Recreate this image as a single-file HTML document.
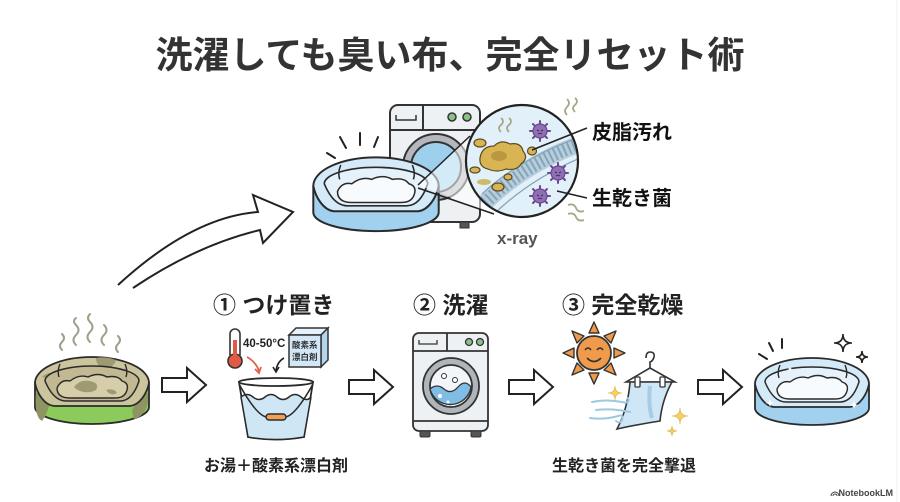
<!DOCTYPE html>
<html><head><meta charset="utf-8"><style>
html,body{margin:0;padding:0;background:#fff;}
svg{display:block;}
text{font-family:"Liberation Sans","Noto Sans CJK JP",sans-serif;font-weight:bold;}
</style></head><body>
<svg width="900" height="502" viewBox="0 0 900 502" xmlns="http://www.w3.org/2000/svg">
<defs>
  <clipPath id="mag"><circle cx="522" cy="161" r="56"/></clipPath>
  <g id="germ">
    <g stroke="#6a4a8c" stroke-width="2" stroke-linecap="round">
      <line x1="0" y1="-10" x2="0" y2="10"/><line x1="-10" y1="0" x2="10" y2="0"/>
      <line x1="-7" y1="-7" x2="7" y2="7"/><line x1="-7" y1="7" x2="7" y2="-7"/>
    </g>
    <circle r="7" fill="#9070b4" stroke="#6a4a8c" stroke-width="1.2"/>
    <path d="M-3,-1 l2,1 M3,-1 l-2,1 M-2,3 q2,-1.5 4,0" stroke="#3d2a55" stroke-width="1" fill="none"/>
  </g>
</defs>

<!-- Title -->
<text x="450" y="68" font-size="37" fill="#333" text-anchor="middle">洗濯しても臭い布、完全リセット術</text>

<!-- Top washer -->
<g stroke="#333" stroke-width="2">
  <rect x="390" y="105" width="90" height="117" rx="8" fill="#eef1f4"/>
  <line x1="390" y1="130" x2="480" y2="130"/>
  <line x1="423" y1="105" x2="423" y2="130"/>
  <path d="M396,115 v5 h20 v-5" fill="none" stroke-width="1.5"/>
  <circle cx="452" cy="117" r="4" fill="#8cc08a" stroke-width="1.5"/>
  <circle cx="467" cy="117" r="4" fill="#8cc08a" stroke-width="1.5"/>
  <circle cx="436" cy="167" r="33" fill="#b4b8be"/>
  <circle cx="436" cy="167" r="25" fill="#9ed0ee"/>
  <rect x="460" y="222" width="9" height="6" fill="#555" stroke-width="1"/>
</g>

<!-- Top bed -->
<g transform="translate(376,186) scale(1.1,1.1)" stroke="#2a2a2a" stroke-width="1.8" stroke-linejoin="round">
  <path d="M-57,0 L-57,24 A57,17 0 0 0 57,24 L57,0 Z" fill="#a2d1ef"/>
  <path d="M-57,0 A57,26 0 0 1 57,0 C55,10 48,22 38,23 L-38,23 C-48,22 -55,10 -57,0 Z" fill="#d5eaf8"/>
  <path d="M-47,-2 A47,15 0 0 1 47,-2 C43,10 37,18 28,18 L-26,18 C-35,18 -42,10 -47,-2 Z" fill="#e6f2fb" stroke-width="1.5"/>
  <path d="M-35,5 Q-31,-4 -22,-2 Q-13,-9 -4,-6 Q6,-11 15,-6 Q26,-8 30,-2 Q37,0 35,7 C33,14 28,15 22,15 L-22,15 C-30,15 -35,12 -35,5 Z" fill="#f8fbfe" stroke-width="1.4"/>
  <path d="M-32,-19 q-3,7 -1,13 M33,-19 q3,7 1,13" fill="none" stroke-width="1.4"/>
</g>
<!-- emphasis lines top bed -->
<g stroke="#222" stroke-width="2" stroke-linecap="round">
  <line x1="327" y1="153" x2="335" y2="158"/>
  <line x1="340" y1="137" x2="346" y2="148"/>
  <line x1="360" y1="133" x2="360" y2="145"/>
  <line x1="378" y1="137" x2="374" y2="147"/>
</g>

<!-- cone -->
<path d="M418,185 L470,136 L494,214 Z" fill="#ffffff" fill-opacity="0.55"/>
<g stroke="#222" stroke-width="1.5">
  <line x1="418" y1="185" x2="470" y2="136"/>
  <line x1="418" y1="188" x2="494" y2="214"/>
</g>

<!-- magnifier -->
<g clip-path="url(#mag)">
  <rect x="460" y="100" width="130" height="125" fill="#e2f0f9"/>
  <path d="M478,210 Q520,165 585,142" stroke="#b6cddc" stroke-width="17" fill="none"/>
  <path d="M478,210 Q520,165 585,142" stroke="#86a4b9" stroke-width="13" stroke-dasharray="2 3" fill="none"/>
  <path d="M482,194 Q520,158 585,135" stroke="#86a4b9" stroke-width="1.3" fill="none"/>
  <path d="M486,222 Q528,178 590,154" stroke="#86a4b9" stroke-width="1.3" fill="none"/>
  <g fill="#d9b455" stroke="#5a4a20" stroke-width="1.2">
    <path d="M480,158 q2,-12 14,-12 q7,-7 16,-2 q11,-2 13,7 q6,7 -2,13 q-4,7 -15,5 q-9,4 -18,0 q-9,-2 -8,-11 Z"/>
    <ellipse cx="480" cy="143" rx="6" ry="4"/>
    <ellipse cx="532" cy="151" rx="4.5" ry="4"/>
    <ellipse cx="475" cy="170" rx="5" ry="3"/>
    <ellipse cx="508" cy="177" rx="4" ry="3"/>
    <ellipse cx="498" cy="187" rx="6" ry="4"/>
  </g>
  <ellipse cx="484" cy="182" rx="7" ry="3" fill="#cfba6a"/>
  <ellipse cx="499" cy="156" rx="8" ry="5" fill="#b9983f"/>
  <path d="M501,132 q-4,-4 0,-7 q4,-4 0,-7 M509,132 q-4,-4 0,-7 q4,-4 0,-7" stroke="#a8a888" stroke-width="1.8" fill="none"/>
  <use href="#germ" x="540" y="131"/>
  <use href="#germ" x="558" y="173"/>
  <use href="#germ" x="540" y="196"/>
</g>
<circle cx="522" cy="161" r="56" fill="none" stroke="#222" stroke-width="2.2"/>
<g stroke="#222" stroke-width="1.5">
  <line x1="532" y1="150" x2="587" y2="128"/>
  <line x1="557" y1="191" x2="587" y2="198"/>
</g>
<path d="M567,115 q-4,-4 0,-8 q4,-4 0,-8 M575,112 q-4,-4 0,-7 q4,-4 0,-7" stroke="#a8a888" stroke-width="1.8" fill="none"/>
<path d="M568,205 q6,-2 8,3 q2,5 8,3 M568,214 q6,-2 8,3 q2,5 8,3" stroke="#a8a888" stroke-width="1.8" fill="none"/>

<text x="592" y="139" font-size="20" fill="#111">皮脂汚れ</text>
<text x="592" y="205" font-size="20" fill="#111">生乾き菌</text>
<text x="497" y="244" font-size="17" fill="#555">x-ray</text>

<!-- big curved arrow -->
<path d="M118,285 Q192,217 258,212 L253,195 L293,212 L263,243 L260,230 Q197,245 133,288" fill="#fff" stroke="#222" stroke-width="2" stroke-linejoin="miter"/>

<!-- Step headers -->
<text x="213" y="313" font-size="23" fill="#222">① つけ置き</text>
<text x="413" y="313" font-size="23" fill="#222">② 洗濯</text>
<text x="562" y="313" font-size="23" fill="#222">③ 完全乾燥</text>

<!-- dirty bed steam -->
<g stroke="#a0a08a" stroke-width="2" fill="none" stroke-linecap="round">
  <path d="M62,350 q-4,-4 0,-8 q4,-4 0,-8"/>
  <path d="M76,345 q-5,-5 0,-10 q5,-5 0,-10 q-4,-4 0,-7"/>
  <path d="M90,342 q-5,-5 0,-10 q5,-5 0,-10 q-4,-4 0,-8"/>
  <path d="M104,345 q-5,-5 0,-10 q5,-5 0,-10"/>
  <path d="M118,352 q-4,-4 0,-8 q4,-4 0,-8"/>
</g>
<!-- dirty bed -->
<g transform="translate(92,383)" stroke="#2a2a2a" stroke-width="1.8" stroke-linejoin="round">
  <path d="M-57,0 L-57,24 A57,17 0 0 0 57,24 L57,0 Z" fill="#8dca5c"/>
  <path d="M-56,10 q10,-2 14,8 q-2,12 -8,20 q-8,-4 -6,-28 Z" fill="#8e9462" stroke="none"/>
  <path d="M40,28 q6,-16 16,-18 l0,10 q-4,14 -14,16 Z" fill="#8e9462" stroke="none"/>
  <path d="M-57,0 A57,26 0 0 1 57,0 C55,10 48,22 38,23 L-38,23 C-48,22 -55,10 -57,0 Z" fill="#cbc49c"/>
  <path d="M4,-25 q10,-2 20,2 q-2,8 -12,8 q-8,-2 -8,-10 Z" fill="#9e9a72" stroke="none"/>
  <path d="M-50,-6 q6,-6 14,-3 q-2,6 -14,3 Z" fill="#9e9a72" stroke="none"/>
  <path d="M-47,-2 A47,15 0 0 1 47,-2 C43,10 37,18 28,18 L-26,18 C-35,18 -42,10 -47,-2 Z" fill="#c2b992" stroke-width="1.5"/>
  <path d="M-35,5 Q-31,-4 -22,-2 Q-13,-9 -4,-6 Q6,-11 15,-6 Q26,-8 30,-2 Q37,0 35,7 C33,14 28,15 22,15 L-22,15 C-30,15 -35,12 -35,5 Z" fill="#d6ceaa" stroke-width="1.4"/>
  <path d="M-18,4 q6,-8 16,-6 q10,2 6,9 q-10,5 -20,-1 Z" fill="#9e9a72" stroke="none"/>
  <path d="M14,7 q8,-2 11,3 q-6,4 -11,-3 Z" fill="#9e9a72" stroke="none"/>
  <path d="M-32,-19 q-3,7 -1,13 M33,-19 q3,7 1,13" fill="none" stroke-width="1.4"/>
</g>

<!-- hollow arrows -->
<g fill="#fff" stroke="#222" stroke-width="2" stroke-linejoin="miter">
  <path d="M162,378 L187,378 L187,368 L206,385 L187,402 L187,392 L162,392 Z"/>
  <path d="M349,380 L374,380 L374,370 L393,387 L374,404 L374,394 L349,394 Z"/>
  <path d="M509,380 L534,380 L534,370 L553,387 L534,404 L534,394 L509,394 Z"/>
  <path d="M698,380 L723,380 L723,370 L742,387 L723,404 L723,394 L698,394 Z"/>
</g>

<!-- thermometer -->
<g stroke="#333" stroke-width="1.6">
  <rect x="230" y="329" width="10" height="30" rx="5" fill="#fff"/>
  <circle cx="235" cy="361" r="7" fill="#e25a43"/>
  <rect x="233" y="340" width="4" height="18" fill="#e25a43" stroke="none"/>
</g>
<text x="243" y="347" font-size="11.5" fill="#222">40-50°C</text>
<!-- box -->
<g stroke="#333" stroke-width="1.5">
  <path d="M289,335 L296,328 L328,328 L321,335 Z" fill="#e6f2fb"/>
  <path d="M321,335 L328,328 L328,360 L321,367 Z" fill="#b2d4ec"/>
  <rect x="289" y="335" width="32" height="32" fill="#d2e8f7"/>
</g>
<text x="292" y="348" font-size="8.5" fill="#333">酸素系</text>
<text x="292" y="360" font-size="8.5" fill="#333">漂白剤</text>
<path d="M247,357 Q256,362 259,371" stroke="#e0604a" stroke-width="1.8" fill="none"/>
<path d="M255,369 L259,373 L261,367" stroke="#e0604a" stroke-width="1.8" fill="none"/>
<path d="M284,358 Q277,362 276,371" stroke="#222" stroke-width="1.6" fill="none"/>
<path d="M273,367 L276,372 L279,367" stroke="#222" stroke-width="1.6" fill="none"/>

<!-- bucket -->
<g stroke="#2a2a2a" stroke-width="1.8">
  <path d="M239,382 L248,437 Q276,442 304,437 L313,382 Z" fill="#fff"/>
  <path d="M241,397 q6,-5 12,0 t12,0 t12,0 t12,0 t12,0 t10,0 L304,437 Q276,442 248,437 Z" fill="#cfe6f5" stroke-width="1.5"/>
  <ellipse cx="276" cy="382" rx="37" ry="4" fill="#fff"/>
  <path d="M239,384 Q258,418 268,417 M284,417 Q294,418 313,384" fill="none" stroke-width="1.6"/>
  <rect x="266" y="414" width="20" height="6" rx="3" fill="#eea057" stroke-width="1.4"/>
</g>
<text x="276" y="471" font-size="16" fill="#222" text-anchor="middle">お湯＋酸素系漂白剤</text>

<!-- washer 2 -->
<g stroke="#333" stroke-width="1.8">
  <rect x="413" y="333" width="75" height="98" rx="6" fill="#eef1f4"/>
  <line x1="413" y1="351" x2="488" y2="351"/>
  <line x1="447" y1="333" x2="447" y2="351"/>
  <line x1="413" y1="421" x2="488" y2="421"/>
  <path d="M419,340 v4 h18 v-4" fill="none" stroke-width="1.3"/>
  <circle cx="469" cy="342" r="3.5" fill="#8cc08a" stroke-width="1.3"/>
  <circle cx="480" cy="342" r="3.5" fill="#8cc08a" stroke-width="1.3"/>
  <circle cx="451" cy="386" r="28" fill="#b0b5bb"/>
  <circle cx="451" cy="386" r="21" fill="#f3f6f9"/>
  <path d="M430,389 q7,-6 14,0 t14,-2 t13,0 A21,21 0 0 1 430,389 Z" fill="#7fbde6" stroke-width="1.3"/>
  <circle cx="444" cy="376" r="2.5" fill="#fff" stroke-width="1"/>
  <circle cx="455" cy="380" r="2.5" fill="#fff" stroke-width="1"/>
  <rect x="420" y="431" width="10" height="6" rx="1.5" fill="#555" stroke-width="1"/>
  <rect x="471" y="431" width="10" height="6" rx="1.5" fill="#555" stroke-width="1"/>
</g>
<circle cx="440" cy="396" r="2" fill="#fff"/>
<circle cx="448" cy="402" r="1.5" fill="#fff"/>

<!-- sun -->
<g transform="translate(594,353)" stroke="#333" stroke-width="1.4" stroke-linejoin="round">
  <g fill="#ef9a4a">
    <path d="M-5,-20 L0,-31 L5,-20 Z"/>
    <path d="M-5,20 L0,31 L5,20 Z"/>
    <path d="M-20,-5 L-31,0 L-20,5 Z"/>
    <path d="M20,-5 L31,0 L20,5 Z"/>
    <path d="M-10,-17 L-22,-22 L-17,-10 Z"/>
    <path d="M10,-17 L22,-22 L17,-10 Z"/>
    <path d="M-10,17 L-22,22 L-17,10 Z"/>
    <path d="M10,17 L22,22 L17,10 Z"/>
  </g>
  <circle r="17" fill="#f09a4c" stroke-width="1.8"/>
  <path d="M-9,-3 q3,-4 6,0 M3,-3 q3,-4 6,0 M-7,5 q7,7 14,0" fill="none" stroke="#333" stroke-width="1.6"/>
</g>
<!-- hanger + towel -->
<path d="M646,358 q0,-6 4,-6 q5,0 4,5 q-1,4 -4,5 l0,6 L626,382 L675,382 L650,368" fill="none" stroke="#333" stroke-width="1.6"/>
<path d="M630,382 L672,382 Q662,400 660,421 Q640,424 617,429 Q628,408 630,382 Z" fill="#cfe6f6" stroke="#333" stroke-width="1.6"/>
<path d="M650,386 Q648,405 652,418" stroke="#a8cce6" stroke-width="4" fill="none"/>
<rect x="635" y="377" width="5" height="10" rx="1" fill="#fff" stroke="#333" stroke-width="1.3"/>
<rect x="660" y="377" width="5" height="10" rx="1" fill="#fff" stroke="#333" stroke-width="1.3"/>
<g stroke="#9cc8e2" stroke-width="2" fill="none" stroke-linecap="round">
  <path d="M592,402 q14,-3 30,0 q8,2 6,-4"/>
  <path d="M596,410 q16,-2 34,2"/>
  <path d="M590,418 q14,2 28,-2 q6,-2 4,4 q-2,4 -6,1"/>
</g>
<g fill="#f3d26a" stroke="#e0b848" stroke-width="0.8">
  <path d="M615,386 Q615,393 622,393 Q615,393 615,400 Q615,393 608,393 Q615,393 615,386 Z"/>
  <path d="M680,408 Q680,416 688,416 Q680,416 680,424 Q680,416 672,416 Q680,416 680,408 Z"/>
  <path d="M672,426 Q672,431 677,431 Q672,431 672,436 Q672,431 667,431 Q672,431 672,426 Z"/>
</g>
<text x="624" y="471" font-size="16" fill="#222" text-anchor="middle">生乾き菌を完全撃退</text>

<!-- clean bed -->
<g stroke="#222" stroke-width="2" stroke-linecap="round">
  <line x1="759" y1="354" x2="767" y2="359"/>
  <line x1="769" y1="343" x2="773" y2="351"/>
  <line x1="782" y1="339" x2="782" y2="348"/>
</g>
<g fill="#fff" stroke="#222" stroke-width="1.6">
  <path d="M843,334 Q843,343 852,343 Q843,343 843,352 Q843,343 834,343 Q843,343 843,334 Z"/>
  <path d="M862,351 Q862,357 868,357 Q862,357 862,363 Q862,357 856,357 Q862,357 862,351 Z"/>
</g>
<g transform="translate(812,384)" stroke="#2a2a2a" stroke-width="1.8" stroke-linejoin="round">
  <path d="M-57,0 L-57,24 A57,17 0 0 0 57,24 L57,0 Z" fill="#a2d1ef"/>
  <path d="M-57,0 A57,26 0 0 1 57,0 C55,10 48,22 38,23 L-38,23 C-48,22 -55,10 -57,0 Z" fill="#d5eaf8"/>
  <path d="M-47,-2 A47,15 0 0 1 47,-2 C43,10 37,18 28,18 L-26,18 C-35,18 -42,10 -47,-2 Z" fill="#e6f2fb" stroke-width="1.5"/>
  <path d="M-35,5 Q-31,-4 -22,-2 Q-13,-9 -4,-6 Q6,-11 15,-6 Q26,-8 30,-2 Q37,0 35,7 C33,14 28,15 22,15 L-22,15 C-30,15 -35,12 -35,5 Z" fill="#f8fbfe" stroke-width="1.4"/>
  <path d="M-32,-19 q-3,7 -1,13 M33,-19 q3,7 1,13" fill="none" stroke-width="1.4"/>
</g>
<g fill="#fff">
  <path d="M770,398 Q770,403 775,403 Q770,403 770,408 Q770,403 765,403 Q770,403 770,398 Z"/>
  <path d="M854,400 Q854,405 859,405 Q854,405 854,410 Q854,405 849,405 Q854,405 854,400 Z"/>
  <path d="M790,366 Q790,369 793,369 Q790,369 790,372 Q790,369 787,369 Q790,369 790,366 Z"/>
</g>

<!-- watermark -->
<text x="893" y="496" font-size="9" fill="#444" text-anchor="end" font-weight="normal">NotebookLM</text>
<path d="M831,496 a4,4 0 0 1 8,0 M833,496 a2,2 0 0 1 4,0" stroke="#444" stroke-width="1" fill="none"/>
<line x1="897" y1="0" x2="897" y2="502" stroke="#f0f0f0" stroke-width="1"/>
</svg>
</body></html>
